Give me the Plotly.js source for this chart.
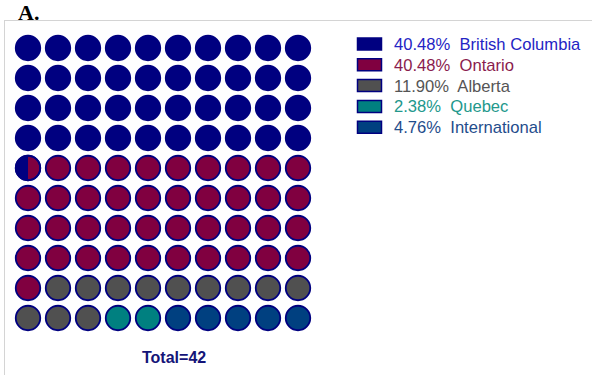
<!DOCTYPE html>
<html>
<head>
<meta charset="utf-8">
<script src="https://cdn.plot.ly/plotly-3.0.1.min.js"></script>
<style>html,body{margin:0;padding:0;background:#fff;}#chart{width:592px;height:375px;}</style>
</head>
<body>
<div id="chart"></div>
<script>
// ---- data ----
const categories = ['British Columbia', 'Ontario', 'Alberta', 'Quebec', 'International'];
const counts = [17, 17, 5, 1, 2];
const fillColors = ['#000080', '#800040', '#505050', '#008080', '#004080'];
const textColors = ['#2424c4', '#8a1c4e', '#555555', '#23988c', '#1f4d8c'];
const panelLabel = 'A.';

// ---- derived ----
const W = 592, H = 375;
const total = counts.reduce((a, b) => a + b, 0);
const pct = counts.map(c => c / total * 100);
const nCols = 10, nRows = 10;
// half-cell boundaries (each circle = 2 halves, 200 halves = 100%)
let cum = 0;
const halfEnd = pct.map(p => { cum += p; return Math.round(cum * 2); });
function catOfHalf(h) { for (let k = 0; k < halfEnd.length; k++) if (h < halfEnd[k]) return k; return halfEnd.length - 1; }

const px = x => x / W;
const py = y => 1 - y / H;

const markerSize = 24.5, lineW = 1.8, outline = '#000080';
const r = (markerSize / 2) / 30; // data units (30 px per unit)

const full = categories.map(() => ({x: [], y: []}));
const halves = []; // {cx, cy, left, right}
for (let i = 0; i < nCols * nRows; i++) {
  const col = i % nCols, row = Math.floor(i / nCols);
  const a = catOfHalf(2 * i), b = catOfHalf(2 * i + 1);
  full[b].x.push(col); full[b].y.push(row);
  if (a !== b) halves.push({cx: col, cy: row, left: a, right: b});
}

const traces = [];
categories.forEach((c, k) => {
  traces.push({
    type: 'scatter', mode: 'markers', x: full[k].x, y: full[k].y, name: c,
    marker: {symbol: 'circle', size: markerSize, color: fillColors[k], line: {color: outline, width: lineW}},
    hoverinfo: 'skip'
  });
});
halves.forEach(h => {
  const xs = [], ys = [];
  for (let t = 0; t <= 40; t++) {
    const ang = Math.PI / 2 + Math.PI * t / 40;
    xs.push(h.cx + r * Math.cos(ang)); ys.push(h.cy + r * Math.sin(ang));
  }
  traces.push({type: 'scatter', mode: 'none', x: xs, y: ys, fill: 'toself',
    fillcolor: fillColors[h.left], hoverinfo: 'skip'});
  traces.push({type: 'scatter', mode: 'markers', x: [h.cx], y: [h.cy],
    marker: {symbol: 'circle-open', size: markerSize, color: outline, line: {color: outline, width: lineW}},
    hoverinfo: 'skip'});
});

// legend (custom: rectangles + coloured text)
const shapes = [
  {type: 'line', xref: 'paper', yref: 'paper', x0: px(4), x1: px(592), y0: py(20.5), y1: py(20.5), line: {color: '#d4d4d4', width: 1}},
  {type: 'line', xref: 'paper', yref: 'paper', x0: px(4.5), x1: px(4.5), y0: py(20.5), y1: py(375), line: {color: '#d4d4d4', width: 1}}
];
const annotations = [
  {xref: 'paper', yref: 'paper', x: px(16), y: py(12), xanchor: 'left', yanchor: 'middle', showarrow: false,
   text: '<b>' + panelLabel + '</b>', font: {family: 'Liberation Serif, Times New Roman, serif', size: 22, color: '#000'}},
  {xref: 'paper', yref: 'paper', x: px(173.5), y: py(357), xanchor: 'center', yanchor: 'middle', showarrow: false,
   text: '<b>Total=' + total + '</b>', font: {family: 'Liberation Sans, Arial, sans-serif', size: 16, color: '#141478'}}
];
categories.forEach((c, k) => {
  const yc = 44 + k * 20.8;
  shapes.push({type: 'rect', xref: 'paper', yref: 'paper', x0: px(357.5), x1: px(381.5), y0: py(yc - 6), y1: py(yc + 6),
    fillcolor: fillColors[k], line: {color: outline, width: 1.5}});
  annotations.push({xref: 'paper', yref: 'paper', x: px(392), y: py(yc + 0.5), xanchor: 'left', yanchor: 'middle', showarrow: false,
    text: pct[k].toFixed(2) + '%&nbsp; ' + c,
    font: {family: 'Liberation Sans, Arial, sans-serif', size: 16.6, color: textColors[k]}});
});

const layout = {
  width: W, height: H, margin: {l: 0, r: 0, t: 0, b: 0},
  paper_bgcolor: '#fff', plot_bgcolor: 'rgba(0,0,0,0)',
  showlegend: false, hovermode: false,
  xaxis: {visible: false, range: [-0.5, 9.5], domain: [px(13), px(313)], fixedrange: true},
  yaxis: {visible: false, range: [9.5, -0.5], domain: [py(333), py(33)], fixedrange: true},
  shapes: shapes, annotations: annotations
};
Plotly.newPlot('chart', traces, layout, {displayModeBar: false, staticPlot: true});
</script>
</body>
</html>
